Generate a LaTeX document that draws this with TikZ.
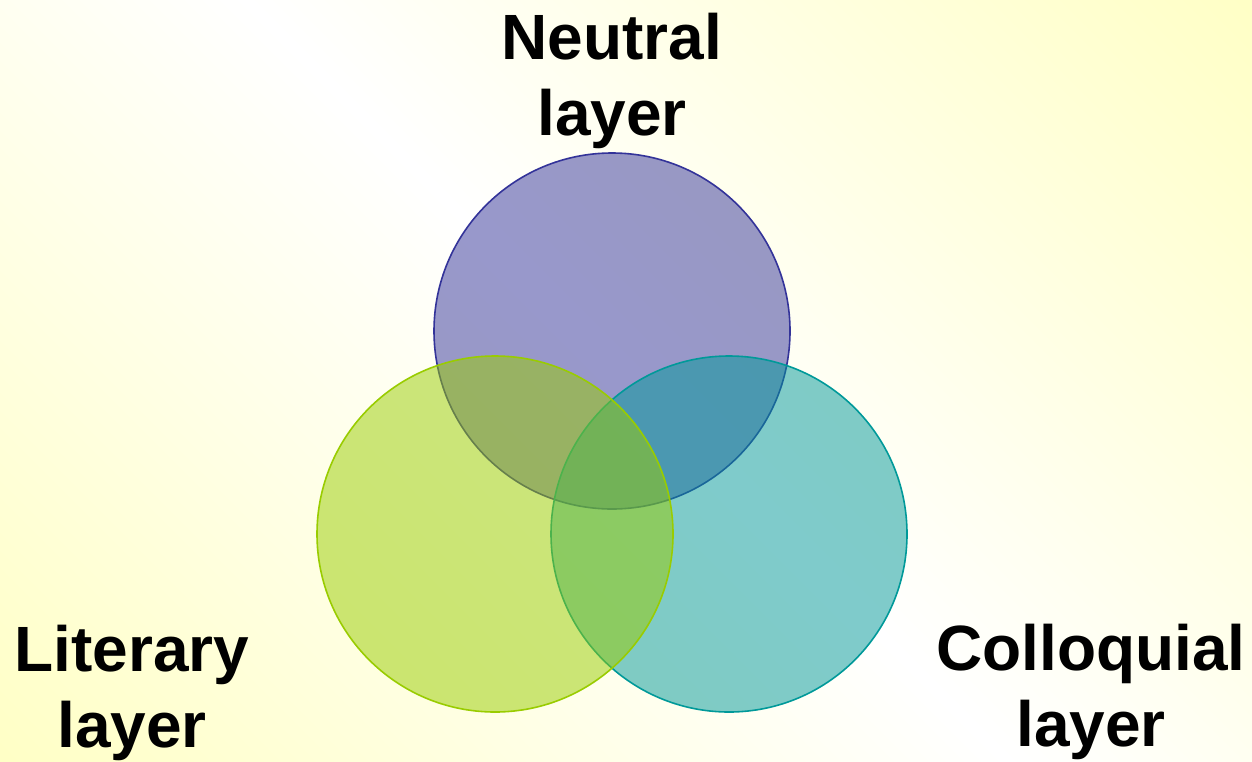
\documentclass[tikz,border=0pt]{standalone}
\usepackage{fontspec}
\setmainfont{Liberation Sans}
\definecolor{bgY}{RGB}{255,255,196}
\definecolor{cTop}{RGB}{51,51,153}
\definecolor{cLeft}{RGB}{153,204,0}
\definecolor{cRight}{RGB}{0,153,153}
\tikzset{
  venn/.style={circle, inner sep=0pt, minimum size=356pt, line width=1.6pt, fill opacity=0.5},
  lbl/.style={font=\bfseries\fontsize{64}{76}\selectfont, align=center, inner sep=0pt, anchor=north, text=black}
}
\begin{document}
\begin{tikzpicture}[x=1pt,y=-1pt]
\useasboundingbox (0,0) rectangle (1252,761);
\begin{scope}
\clip (0,0) rectangle (1252,761);
\shade[transform canvas={rotate around={-45:(626,380)}}, top color=bgY, bottom color=bgY, middle color=white]
  (-100,-350) rectangle (1352,1110);
\end{scope}
\node[venn, draw=cTop, fill=cTop] (neutral) at (612,331) {};
\node[venn, draw=cRight, fill=cRight] (colloquial) at (729,534) {};
\node[venn, draw=cLeft, fill=cLeft] (literary) at (495,534) {};
\node[lbl] (tneutral) at (612,13) {Neutral\\layer};
\node[lbl] (tliterary) at (132,625) {Literary\\layer};
\node[lbl] (tcolloquial) at (1091,624) {Colloquial\\layer};
\end{tikzpicture}
\end{document}
